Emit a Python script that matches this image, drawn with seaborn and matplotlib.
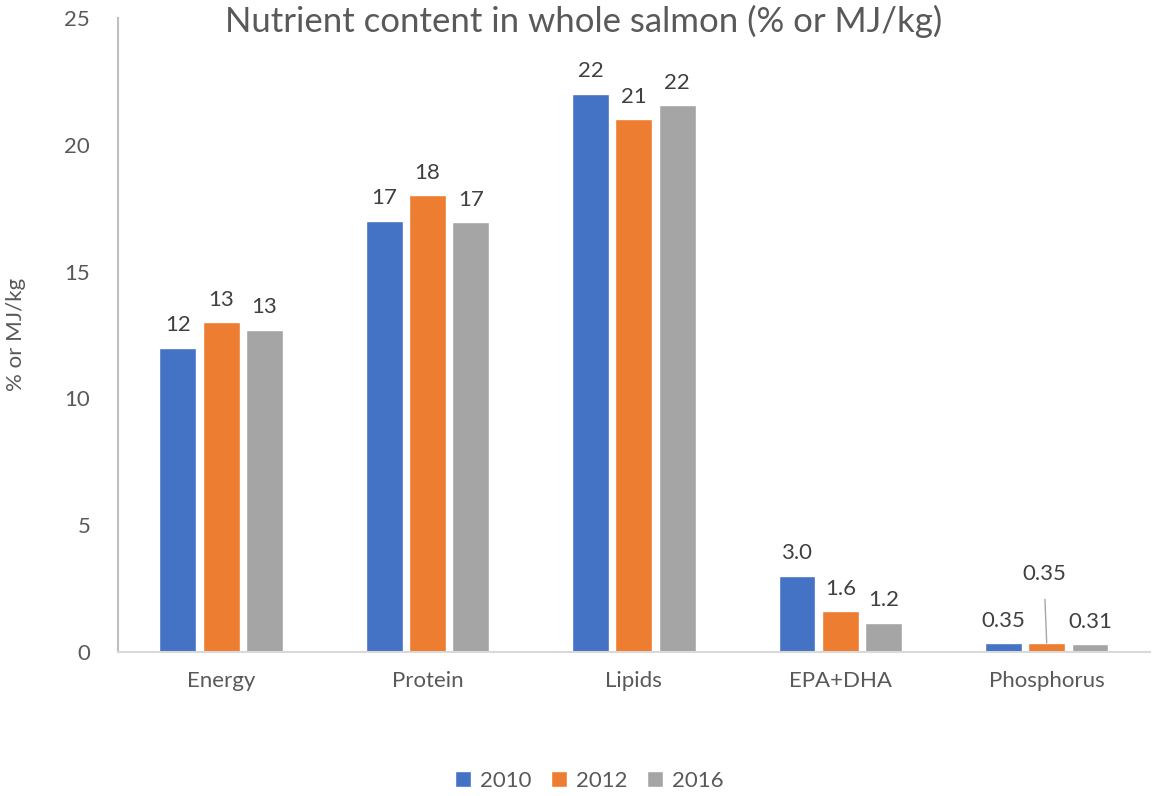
import pandas as pd
import matplotlib
matplotlib.use('Agg')
import matplotlib.pyplot as plt
import seaborn as sns

categories = ['Energy', 'Protein', 'Lipids', 'EPA+DHA', 'Phosphorus']
years = ['2010', '2012', '2016']
values_2010 = [12.0, 17.0, 22.0, 3.0, 0.35]
values_2012 = [13.0, 18.0, 21.0, 1.6, 0.35]
values_2016 = [12.7, 16.95, 21.55, 1.15, 0.31]
labels_2010 = ['12', '17', '22', '3.0', '0.35']
labels_2012 = ['13', '18', '21', '1.6', '0.35']
labels_2016 = ['13', '17', '22', '1.2', '0.31']
colors = ['#4472C4', '#ED7D31', '#A5A5A5']

rows = []
for yr, vals in zip(years, [values_2010, values_2012, values_2016]):
    for c, v in zip(categories, vals):
        rows.append({'nutrient': c, 'year': yr, 'value': v})
df = pd.DataFrame(rows)

sns.set_style('white')
plt.rcParams['font.family'] = ['Lato', 'DejaVu Sans']

fs = 16
fig = plt.figure(figsize=(11.53, 7.96), dpi=100)
ax = fig.add_axes([0.1023, 0.181, 0.895, 0.7965])

sns.barplot(data=df, x='nutrient', y='value', hue='year', palette=colors,
            order=categories, hue_order=years, width=0.63, gap=0.15,
            saturation=1, ax=ax, legend=True)

ax.set_ylim(0, 25)
ax.set_yticks([0, 5, 10, 15, 20, 25])
ax.set_xlim(-0.5, 4.5)
ax.tick_params(axis='both', length=0, labelsize=fs, colors='#595959')
ax.tick_params(axis='x', pad=14)
ax.tick_params(axis='y', pad=20)
ax.set_xlabel('')
ax.set_ylabel('')
fig.text(16 / 1153, 0.58, '% or MJ/kg', rotation=90, ha='center', va='center',
         fontsize=fs, color='#595959')

for s in ['top', 'right']:
    ax.spines[s].set_visible(False)
ax.spines['left'].set_color('#BFBFBF')
ax.spines['bottom'].set_color('#D9D9D9')
ax.spines['left'].set_linewidth(1.5)
ax.spines['bottom'].set_linewidth(1.5)

all_labels = [labels_2010, labels_2012, labels_2016]
for i, cont in enumerate(ax.containers):
    labs = list(all_labels[i])
    if i == 1:
        # Phosphorus 2012 label is lifted with a leader line
        labs[4] = ''
    ax.bar_label(cont, labels=labs, padding=9, fontsize=fs, color='#404040')

bar = ax.containers[1][4]
bx = bar.get_x() + bar.get_width() / 2
by = bar.get_height()
ax.annotate(labels_2012[4], xy=(bx, by), xytext=(-2, 50), textcoords='offset points',
            ha='center', va='center', fontsize=fs, color='#404040',
            arrowprops=dict(arrowstyle='-', color='#A6A6A6', lw=1,
                            shrinkA=9, shrinkB=0))

fig.text(0.506, 0.973, 'Nutrient content in whole salmon (% or MJ/kg)',
         ha='center', va='center', fontsize=25, color='#595959')

handles, labels = ax.get_legend_handles_labels()
ax.get_legend().remove()
fig.legend(handles, labels, loc='center', bbox_to_anchor=(0.511, 0.019), ncol=3,
           frameon=False, fontsize=fs, labelcolor='#595959', handlelength=0.7,
           handleheight=0.7, handletextpad=0.4, columnspacing=0.9)

fig.savefig('out.png', dpi=100)
